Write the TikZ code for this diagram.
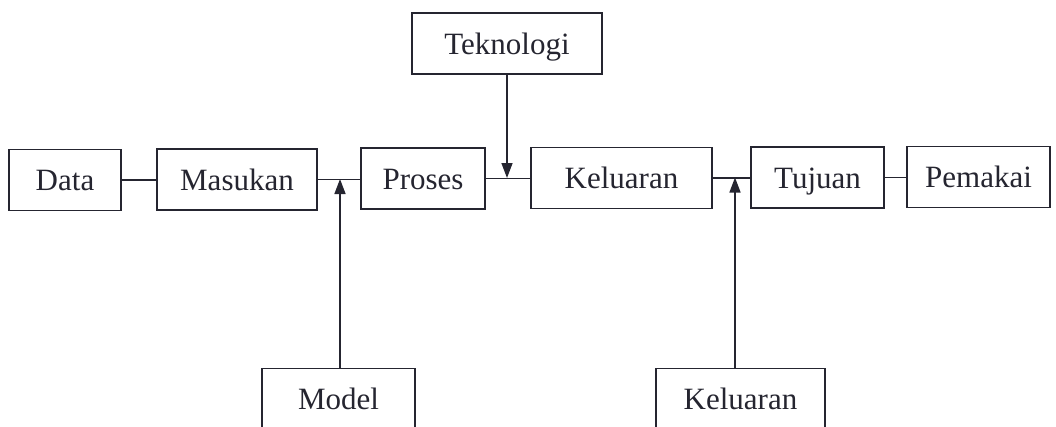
\documentclass[tikz,border=0pt]{standalone}
\usepackage{fontspec}
\setmainfont{Liberation Serif}
\usetikzlibrary{arrows.meta}
\definecolor{ink}{HTML}{252530}
\begin{document}
\begin{tikzpicture}[x=1pt,y=-1pt,
  box/.style={draw=ink,line width=1.5pt,inner sep=0pt,minimum height=61pt,
    text height=24pt,text depth=3pt,
    text=ink,font=\fontsize{31}{36}\selectfont},
  conn/.style={draw=ink,line width=1.5pt},
  arr/.style={conn,-{Triangle[width=11pt,length=15pt]}}]
\useasboundingbox (0,0) rectangle (1056,426);
\clip (0,0) rectangle (1056,426);
\node[box,minimum width=112pt] (data) at (65,180) {Data};
\node[box,minimum width=160pt] (masukan) at (237,179.5) {Masukan};
\node[box,minimum width=124pt] (proses) at (423,178.5) {Proses};
\node[box,minimum width=190pt] (tek) at (507,43.5) {Teknologi};
\node[box,minimum width=181pt] (kel) at (621.5,178) {Keluaran};
\node[box,minimum width=133pt] (tuj) at (817.5,177.5) {Tujuan};
\node[box,minimum width=143pt] (pem) at (978.5,177) {Pemakai};
\node[box,minimum width=153pt] (model) at (338.5,399) {Model};
\node[box,minimum width=169pt] (kel2) at (740.5,399) {Keluaran};
\coordinate (j1) at (340,179);
\coordinate (j2) at (507,178);
\coordinate (j3) at (735,177.5);
\draw[conn] (data.east) -- (data.east -| masukan.west);
\draw[conn] (masukan.east) -- (masukan.east -| proses.west);
\draw[conn] (proses.east) -- (proses.east -| kel.west);
\draw[conn] (kel.east) -- (kel.east -| tuj.west);
\draw[conn] (tuj.east) -- (tuj.east -| pem.west);
\draw[arr] (model.north -| j1) -- (j1);
\draw[arr] (tek.south) -- (j2);
\draw[arr] (kel2.north -| j3) -- (j3);
\end{tikzpicture}
\end{document}
